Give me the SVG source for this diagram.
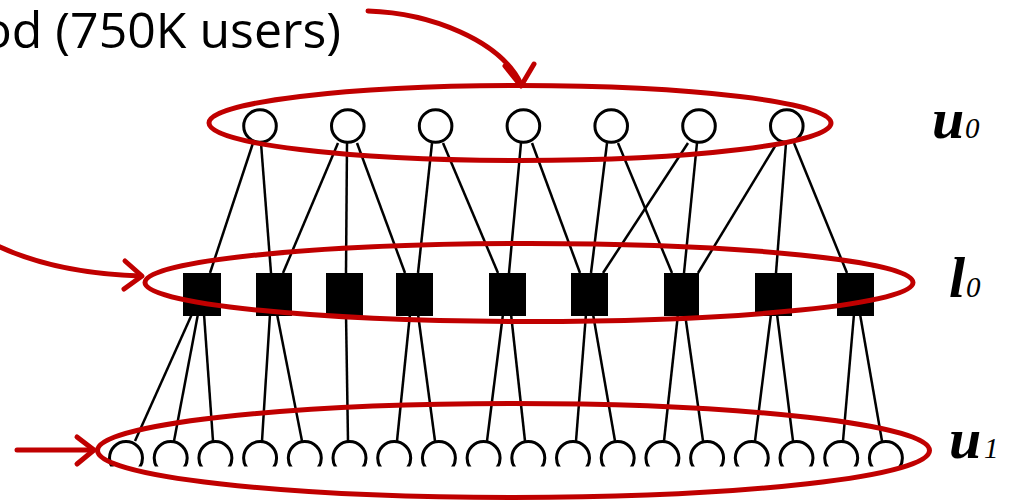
<svg xmlns="http://www.w3.org/2000/svg" width="1009" height="503" viewBox="0 0 1009 503">
<defs>
<style>
.ln{stroke:#000;stroke-width:2.5;fill:none}
.uc{fill:#fff;stroke:#000;stroke-width:3}
.sq{fill:#000}
.red{fill:none;stroke:#C00000;stroke-width:5;stroke-linecap:round;stroke-linejoin:round}
.cap{font-family:"Open Sans","Liberation Sans",sans-serif;font-size:50px;fill:#000}
.lab{font-family:"Liberation Serif","Times New Roman",serif;font-style:italic;font-weight:bold;font-size:58px;fill:#000}
.sub{font-family:"Liberation Serif","Times New Roman",serif;font-style:italic;font-size:29px;fill:#000}
</style>
<clipPath id="clipU1"><rect x="0" y="0" width="1009" height="466.5"/></clipPath>
</defs>
<rect width="1009" height="503" fill="#fff"/>

<g id="connectors">
<line class="ln" x1="253" y1="143" x2="210" y2="273"/>
<line class="ln" x1="261" y1="143" x2="271" y2="273"/>
<line class="ln" x1="338" y1="143" x2="283" y2="273"/>
<line class="ln" x1="347" y1="143" x2="346" y2="273"/>
<line class="ln" x1="357" y1="143" x2="405" y2="273"/>
<line class="ln" x1="432" y1="143" x2="418" y2="273"/>
<line class="ln" x1="443" y1="143" x2="498" y2="273"/>
<line class="ln" x1="521" y1="143" x2="509" y2="273"/>
<line class="ln" x1="532" y1="143" x2="580" y2="273"/>
<line class="ln" x1="607" y1="143" x2="591" y2="273"/>
<line class="ln" x1="618" y1="143" x2="672" y2="273"/>
<line class="ln" x1="688" y1="143" x2="603" y2="273"/>
<line class="ln" x1="697" y1="143" x2="684" y2="273"/>
<line class="ln" x1="777" y1="143" x2="698" y2="273"/>
<line class="ln" x1="786" y1="143" x2="776" y2="273"/>
<line class="ln" x1="794" y1="143" x2="847" y2="273"/>

<line class="ln" x1="192" y1="314" x2="135" y2="441"/>
<line class="ln" x1="198" y1="314" x2="174" y2="441"/>
<line class="ln" x1="204" y1="314" x2="213" y2="441"/>
<line class="ln" x1="270" y1="314" x2="262" y2="441"/>
<line class="ln" x1="277" y1="314" x2="302" y2="441"/>
<line class="ln" x1="346" y1="314" x2="348" y2="441"/>
<line class="ln" x1="410" y1="314" x2="397" y2="441"/>
<line class="ln" x1="418" y1="314" x2="435" y2="441"/>
<line class="ln" x1="503" y1="314" x2="487" y2="441"/>
<line class="ln" x1="511" y1="314" x2="525" y2="441"/>
<line class="ln" x1="586" y1="314" x2="576" y2="441"/>
<line class="ln" x1="593" y1="314" x2="615" y2="441"/>
<line class="ln" x1="678" y1="314" x2="664" y2="441"/>
<line class="ln" x1="685" y1="314" x2="703" y2="441"/>
<line class="ln" x1="771" y1="314" x2="755" y2="441"/>
<line class="ln" x1="777" y1="314" x2="793" y2="441"/>
<line class="ln" x1="854" y1="314" x2="843" y2="441"/>
<line class="ln" x1="860" y1="314" x2="882" y2="441"/>
</g>

<g id="u0-nodes">
<circle class="uc" cx="260" cy="126" r="16.3"/>
<circle class="uc" cx="347.8" cy="126" r="16.3"/>
<circle class="uc" cx="435.6" cy="126" r="16.3"/>
<circle class="uc" cx="523.4" cy="126" r="16.3"/>
<circle class="uc" cx="611.2" cy="126" r="16.3"/>
<circle class="uc" cx="699" cy="126" r="16.3"/>
<circle class="uc" cx="786.8" cy="126" r="16.3"/>
</g>

<g id="l0-nodes">
<rect class="sq" x="183" y="273" width="38" height="43"/>
<rect class="sq" x="256" y="273" width="36" height="43"/>
<rect class="sq" x="326" y="273" width="37" height="43"/>
<rect class="sq" x="396" y="273" width="37" height="43"/>
<rect class="sq" x="489" y="273" width="37" height="43"/>
<rect class="sq" x="571" y="273" width="37" height="43"/>
<rect class="sq" x="664" y="273" width="35" height="43"/>
<rect class="sq" x="755" y="273" width="37" height="43"/>
<rect class="sq" x="837" y="273" width="37" height="43"/>
</g>

<g id="u1-nodes" clip-path="url(#clipU1)">
<circle class="uc" cx="126" cy="458" r="16.5"/>
<circle class="uc" cx="170.7" cy="458" r="16.5"/>
<circle class="uc" cx="215.4" cy="458" r="16.5"/>
<circle class="uc" cx="260.1" cy="458" r="16.5"/>
<circle class="uc" cx="304.8" cy="458" r="16.5"/>
<circle class="uc" cx="349.5" cy="458" r="16.5"/>
<circle class="uc" cx="394.2" cy="458" r="16.5"/>
<circle class="uc" cx="438.9" cy="458" r="16.5"/>
<circle class="uc" cx="483.6" cy="458" r="16.5"/>
<circle class="uc" cx="528.3" cy="458" r="16.5"/>
<circle class="uc" cx="573" cy="458" r="16.5"/>
<circle class="uc" cx="617.7" cy="458" r="16.5"/>
<circle class="uc" cx="662.4" cy="458" r="16.5"/>
<circle class="uc" cx="707.1" cy="458" r="16.5"/>
<circle class="uc" cx="751.8" cy="458" r="16.5"/>
<circle class="uc" cx="796.5" cy="458" r="16.5"/>
<circle class="uc" cx="841.2" cy="458" r="16.5"/>
<circle class="uc" cx="885.9" cy="458" r="16.5"/>
</g>

<g id="groups">
<ellipse id="u0-group" class="red" cx="520" cy="123" rx="311" ry="37.5"/>
<ellipse id="l0-group" class="red" cx="529" cy="282.5" rx="384" ry="39"/>
<ellipse id="u1-group" class="red" cx="513.5" cy="450.5" rx="416" ry="47"/>
</g>

<g id="arrows">
<path class="red" d="M368,11 C430,13 500,40 521,84"/>
<polyline class="red" points="505,66 521,86 534,64"/>
<path class="red" d="M-6,244 C30,262 80,274 141,276"/>
<polyline class="red" points="125,261 142,276 124,289"/>
<line class="red" x1="17" y1="450" x2="93" y2="450"/>
<polyline class="red" points="77,437 94,450 77,464"/>
</g>

<g id="labels">
<text class="cap" x="341" y="48" text-anchor="end">od (750K users)</text>
<text class="lab" x="932" y="138">u</text><text class="sub" x="965" y="138">0</text>
<text class="lab" x="949" y="297">l</text><text class="sub" x="966" y="297">0</text>
<text class="lab" x="949" y="458">u</text><text class="sub" x="984" y="458">1</text>
</g>
</svg>
